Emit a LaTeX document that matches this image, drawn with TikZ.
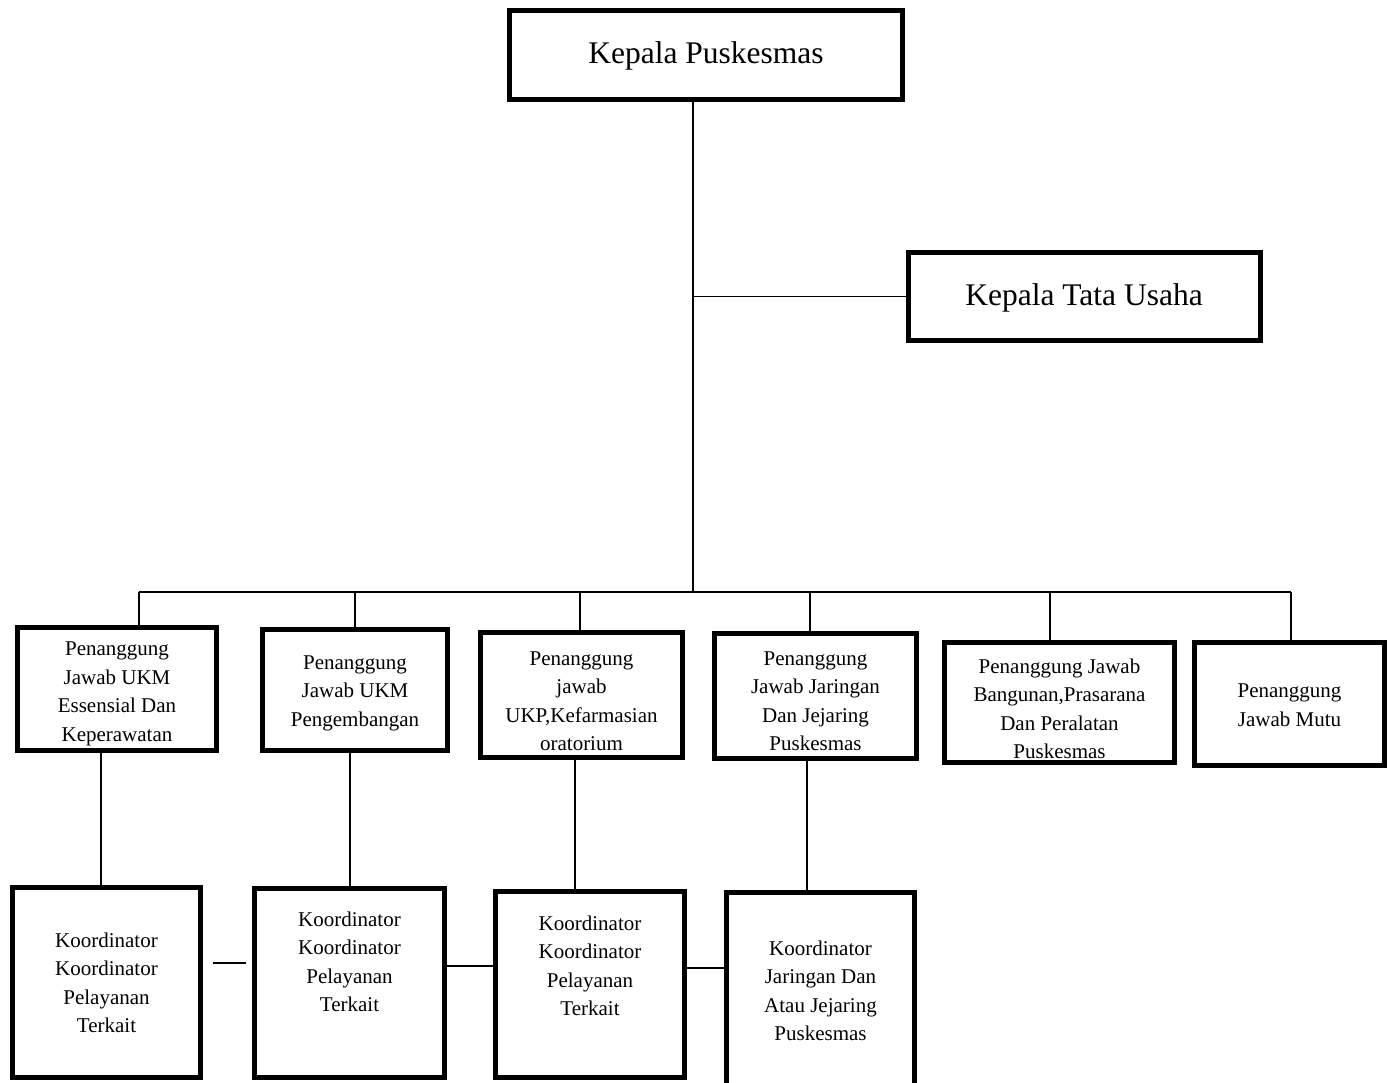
\documentclass[tikz,border=0pt]{standalone}
\usepackage{fontspec}
\setmainfont{Liberation Serif}
\begin{document}
\begin{tikzpicture}[x=1pt,y=-1pt,
  box/.style={draw=black, line width=5pt, rectangle, inner sep=0pt, fill=none},
  big/.style={font=\fontsize{31.5}{36}\selectfont, inner sep=0pt},
  txt/.style={font=\fontsize{21}{28.5}\selectfont, align=center, inner sep=0pt},
  conn/.style={draw=black, line width=1.6pt}]
\useasboundingbox (0,0) rectangle (1390,1083);
\fill[white] (0,0) rectangle (1390,1083);
% top level
\node[box, minimum width=393, minimum height=89] (top) at (706,55) {};
\node[big] (ttop) at (706,56) {Kepala Puskesmas};
\node[box, minimum width=352, minimum height=88] (tu) at (1084.5,296.5) {};
\node[big] (ttu) at (1084,298) {Kepala Tata Usaha};
% second level
\node[box, minimum width=199, minimum height=123] (b1) at (117,689) {};
\node[txt] (t1) at (117,694) {Penanggung\\Jawab UKM\\Essensial Dan\\Keperawatan};
\node[box, minimum width=185, minimum height=121] (b2) at (355,690) {};
\node[txt] (t2) at (355,693) {Penanggung\\Jawab UKM\\Pengembangan};
\node[box, minimum width=202, minimum height=125] (b3) at (581.5,695) {};
\node[txt] (t3) at (581.5,701) {Penanggung\\jawab\\UKP,Kefarmasian\\oratorium};
\node[box, minimum width=202, minimum height=125] (b4) at (815.5,696) {};
\node[txt] (t4) at (815.5,701) {Penanggung\\Jawab Jaringan\\Dan Jejaring\\Puskesmas};
\node[box, minimum width=230, minimum height=120] (b5) at (1059.5,702.5) {};
\node[txt] (t5) at (1059.5,709) {Penanggung Jawab\\Bangunan,Prasarana\\Dan Peralatan\\Puskesmas};
\node[box, minimum width=190, minimum height=123] (b6) at (1289.5,704) {};
\node[txt] (t6) at (1289.5,705) {Penanggung\\Jawab Mutu};
% third level
\node[box, minimum width=188, minimum height=190] (b7) at (106.5,982.5) {};
\node[txt] (t7) at (106.5,983) {Koordinator\\Koordinator\\Pelayanan\\Terkait};
\node[box, minimum width=190, minimum height=189] (b8) at (349.5,983) {};
\node[txt] (t8) at (349.5,962) {Koordinator\\Koordinator\\Pelayanan\\Terkait};
\node[box, minimum width=189, minimum height=186] (b9) at (590,984.5) {};
\node[txt] (t9) at (590,966) {Koordinator\\Koordinator\\Pelayanan\\Terkait};
\node[box, minimum width=188, minimum height=196] (b10) at (820.5,990) {};
\node[txt] (t10) at (820.5,991) {Koordinator\\Jaringan Dan\\Atau Jejaring\\Puskesmas};
% connectors
\coordinate (j) at (693,592);
\draw[conn] (top.south -| j) -- (j);
\draw[conn] (tu.west) -- (tu.west -| j);
\coordinate (d1) at (139,592);
\coordinate (d2) at (355,592);
\coordinate (d3) at (580,592);
\coordinate (d4) at (810,592);
\coordinate (d5) at (1050,592);
\coordinate (d6) at (1291,592);
\draw[conn] (d1) -- (d6);
\draw[conn] (d1) -- (d1 |- b1.north);
\draw[conn] (d2) -- (d2 |- b2.north);
\draw[conn] (d3) -- (d3 |- b3.north);
\draw[conn] (d4) -- (d4 |- b4.north);
\draw[conn] (d5) -- (d5 |- b5.north);
\draw[conn] (d6) -- (d6 |- b6.north);
\coordinate (e1) at (101,0);
\coordinate (e2) at (350,0);
\coordinate (e3) at (575,0);
\coordinate (e4) at (807,0);
\draw[conn] (e1 |- b1.south) -- (e1 |- b7.north);
\draw[conn] (e2 |- b2.south) -- (e2 |- b8.north);
\draw[conn] (e3 |- b3.south) -- (e3 |- b9.north);
\draw[conn] (e4 |- b4.south) -- (e4 |- b10.north);
\draw[conn, shorten <=10pt, shorten >=6pt] (b7.east |- 0,963) -- (b8.west |- 0,963);
\draw[conn] (b8.east |- 0,966) -- (b9.west |- 0,966);
\draw[conn] (b9.east |- 0,968) -- (b10.west |- 0,968);
\end{tikzpicture}
\end{document}
